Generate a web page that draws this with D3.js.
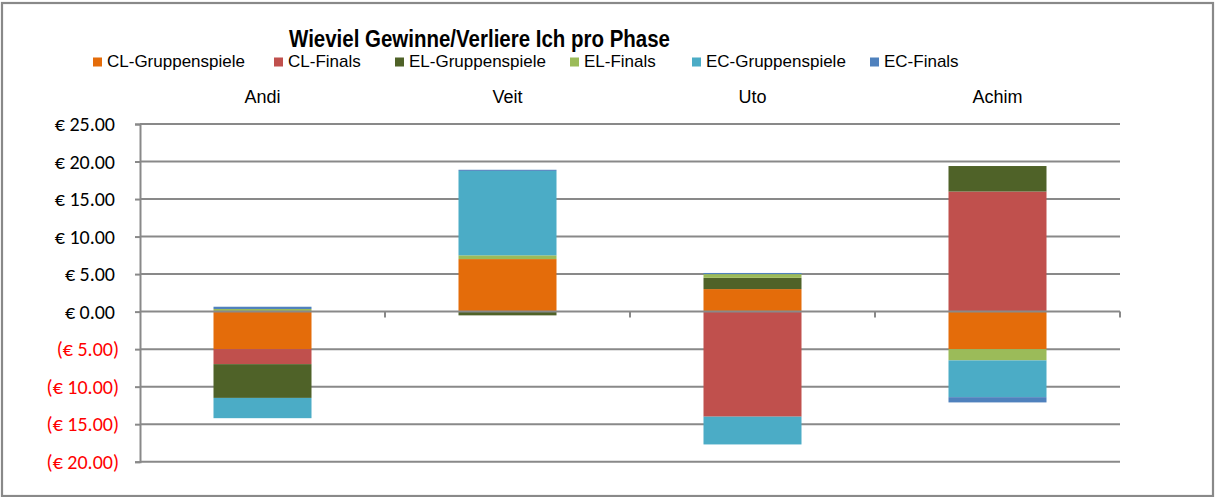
<!DOCTYPE html>
<html>
<head>
<meta charset="utf-8">
<script src="https://cdn.jsdelivr.net/npm/d3@7"></script>
<style>
  body { margin: 0; background: #fff; }
  svg { display: block; }
</style>
</head>
<body>
<svg id="chart" width="1216" height="497"></svg>
<script>
// categories and series (values in euro)
var players = ['Andi', 'Veit', 'Uto', 'Achim']
var phases = ['CL-Gruppenspiele', 'CL-Finals', 'EL-Gruppenspiele', 'EL-Finals', 'EC-Gruppenspiele', 'EC-Finals']
var clGruppen = [-5, 7, 3, -5]
var clFinals = [-2, 0, -14, 16]
var elGruppen = [-4.5, -0.5, 1.5, 3.4]
var elFinals = [0.35, 0.5, 0.5, -1.5]
var ecGruppen = [-2.7, 11.25, -3.7, -4.9]
var ecFinals = [0.3, 0.15, 0.15, -0.7]
var yTicks = [-20, -15, -10, -5, 0, 5, 10, 15, 20, 25]
var colors = ['#E46C0A', '#C0504D', '#4F6228', '#9BBB59', '#4BACC6', '#4F81BD']

var seriesValues = [clGruppen, clFinals, elGruppen, elFinals, ecGruppen, ecFinals]

var rows = players.map(function(p, i) {
	var r = {name: p}
	phases.forEach(function(ph, j) { r[ph] = seriesValues[j][i] })
	return r
})

var svg = d3.select('#chart')

var plot = {left: 140, right: 1120, top: 124, bottom: 461.7}

var x = d3.scaleBand().domain(players).range([plot.left, plot.right])
	.paddingInner(0.6).paddingOuter(0.3)
var step = (plot.right - plot.left) / players.length

var y = d3.scaleLinear().domain([-20, 25]).range([plot.bottom, plot.top])

var color = d3.scaleOrdinal().domain(phases).range(colors)

// outer border
svg.append('rect')
	.attr('x', 2).attr('y', 3)
	.attr('width', 1211).attr('height', 493)
	.attr('fill', '#fff')
	.attr('stroke', '#898989')
	.attr('stroke-width', 2.2)

// gridlines
svg.append('g').selectAll('line')
	.data(yTicks.filter(function(d) { return d != 0 }))
	.enter().append('line')
		.attr('x1', plot.left).attr('x2', plot.right)
		.attr('y1', function(d) { return y(d) })
		.attr('y2', function(d) { return y(d) })
		.attr('stroke', '#898989')
		.attr('stroke-width', 2)

// y axis
var yAxis = svg.append('g')
	.attr('transform', 'translate(' + plot.left + ',0)')
	.call(d3.axisLeft(y).tickValues(yTicks).tickSize(5).tickFormat(''))
yAxis.select('.domain').attr('stroke', '#898989').attr('stroke-width', 2)
yAxis.selectAll('.tick line').attr('stroke', '#898989').attr('stroke-width', 2)

svg.append('g').selectAll('text')
	.data(yTicks)
	.enter().append('text')
		.attr('x', function(d) { return d < 0 ? 119 : 115 })
		.attr('y', function(d) { return y(d) })
		.attr('dy', '0.35em')
		.attr('text-anchor', 'end')
		.style('font-family', 'Carlito, Lato, sans-serif')
		.style('font-size', '20px')
		.attr('fill', function(d) { return d < 0 ? '#FF0000' : '#000' })
		.text(function(d) {
			var s = '€ ' + d3.format('.2f')(Math.abs(d))
			return d < 0 ? '(' + s + ')' : s
		})

// stacked bars
var stack = d3.stack().keys(phases).offset(d3.stackOffsetDiverging)
var layers = stack(rows)

svg.append('g').selectAll('g')
	.data(layers)
	.enter().append('g')
		.attr('fill', function(d) { return color(d.key) })
	.selectAll('rect')
	.data(function(d) { return d })
	.enter().append('rect')
		.attr('x', function(d) { return x(d.data.name) })
		.attr('width', x.bandwidth())
		.attr('y', function(d) { return y(Math.max(d[0], d[1])) })
		.attr('height', function(d) { return Math.abs(y(d[0]) - y(d[1])) })

// zero axis with category boundary ticks
svg.append('line')
	.attr('x1', plot.left).attr('x2', plot.right)
	.attr('y1', y(0)).attr('y2', y(0))
	.attr('stroke', '#898989')
	.attr('stroke-width', 2)

svg.append('g').selectAll('line')
	.data(d3.range(1, players.length + 1))
	.enter().append('line')
		.attr('x1', function(i) { return plot.left + i * step })
		.attr('x2', function(i) { return plot.left + i * step })
		.attr('y1', y(0)).attr('y2', y(0) + 6)
		.attr('stroke', '#898989')
		.attr('stroke-width', 2)

// category labels on top
svg.append('g').selectAll('text')
	.data(players)
	.enter().append('text')
		.attr('x', function(d) { return x(d) + x.bandwidth() / 2 })
		.attr('y', 103)
		.attr('text-anchor', 'middle')
		.style('font-family', '"Liberation Sans", Arial, sans-serif')
		.style('font-size', '18px')
		.text(function(d) { return d })

// title
svg.append('text')
	.attr('x', 289)
	.attr('y', 46.5)
	.attr('textLength', 381)
	.attr('lengthAdjust', 'spacingAndGlyphs')
	.style('font-family', '"Liberation Sans", Arial, sans-serif')
	.style('font-weight', 'bold')
	.style('font-size', '23px')
	.text('Wieviel Gewinne/Verliere Ich pro Phase')

// legend
var legendX = [93, 274, 395, 570, 692, 870]
var legend = svg.append('g').selectAll('g')
	.data(phases)
	.enter().append('g')
		.attr('transform', function(d, i) { return 'translate(' + legendX[i] + ',0)' })
legend.append('rect')
	.attr('x', 0).attr('y', 57.5)
	.attr('width', 9).attr('height', 9)
	.attr('fill', function(d) { return color(d) })
legend.append('text')
	.attr('x', 14).attr('y', 67)
	.style('font-family', '"Liberation Sans", Arial, sans-serif')
	.style('font-size', '17px')
	.text(function(d) { return d })
</script>
</body>
</html>
